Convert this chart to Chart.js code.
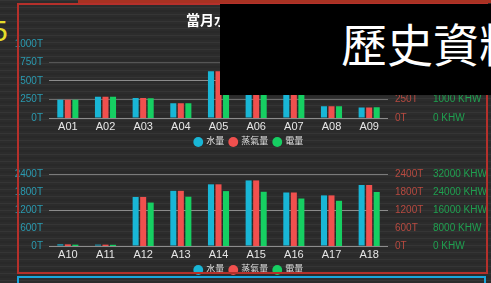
<!DOCTYPE html>
<html><head><meta charset="utf-8">
<script src="https://cdn.jsdelivr.net/npm/chart.js@4.4.0/dist/chart.umd.min.js"></script>
<style>
html,body{margin:0;padding:0;width:491px;height:283px;overflow:hidden;}
body{position:relative;background-color:#2c2c2c;
background-image:repeating-linear-gradient(180deg,rgba(255,255,255,0.045) 0px,rgba(255,255,255,0.045) 1px,rgba(0,0,0,0) 1px,rgba(0,0,0,0) 3px,rgba(0,0,0,0.08) 3px,rgba(0,0,0,0.08) 5px,rgba(0,0,0,0) 5px,rgba(0,0,0,0) 7px);
font-family:"Liberation Sans",sans-serif;}
#strip{position:absolute;left:78px;top:0;width:413px;height:3px;background:#a83222;}
#five{position:absolute;left:-9px;top:16px;font:30px "Liberation Sans",sans-serif;color:#e6dc2a;line-height:1;}
.cw{position:absolute;left:0;width:491px;}
#c1w{top:1px;height:147px;}
#c2w{top:161px;height:115px;}
#frame{position:absolute;left:17px;top:3px;width:467px;height:267px;border:2px solid #b5302b;}
#blue{position:absolute;left:17px;top:276px;width:465px;height:20px;border:2px solid #1aa6dd;}
#black{position:absolute;left:220px;top:4px;width:271px;height:91px;background:#000;overflow:hidden;}
#black span{position:absolute;left:121px;top:15px;font:46px "Noto Sans CJK TC",sans-serif;color:#fff;white-space:nowrap;line-height:1;}
</style></head>
<body>
<div id="strip"></div>
<div id="five">5</div>
<div class="cw" id="c1w"><canvas id="c1" width="491" height="147"></canvas></div>
<div class="cw" id="c2w"><canvas id="c2" width="491" height="115"></canvas></div>
<div id="frame"></div>
<div id="blue"></div>
<div id="black"><span>歷史資料</span></div>
<script>
// ---- data ----
const topCategories = ['A01','A02','A03','A04','A05','A06','A07','A08','A09'];
const topWater = [245, 287, 268, 199, 629, 560, 545, 157, 143];
const topSteam = [245, 287, 268, 199, 629, 560, 545, 157, 143];
const topElec  = [980, 1150, 1070, 800, 2200, 2000, 1900, 630, 575]; // KHW
const bottomCategories = ['A10','A11','A12','A13','A14','A15','A16','A17','A18'];
const bottomWater = [55, 45, 1635, 1839, 2056, 2186, 1784, 1687, 2034];
const bottomSteam = [55, 45, 1635, 1839, 2056, 2186, 1784, 1687, 2034];
const bottomElec  = [600, 530, 19300, 21900, 24400, 24100, 21100, 20100, 24000]; // KHW
const topTTicks = [0, 250, 500, 750, 1000];
const topKhwTicks = [0, 1000, 2000, 3000, 4000];
const bottomTTicks = [0, 600, 1200, 1800, 2400];
const bottomKhwTicks = [0, 8000, 16000, 24000, 32000];
const seriesLabels = ['水量', '蒸氣量', '電量'];
const titleText = '當月水電蒸氣使用量';

const FONT = '"Liberation Sans","Noto Sans CJK TC",sans-serif';

function makeChart(id, cats, water, steam, elec, tTicks, kTicks, showTitle, gridColors, padTop) {
  const fixTicks = (arr) => (s) => { s.ticks = arr.map(v => ({value: v})); };
  return new Chart(document.getElementById(id), {
    type: 'bar',
    data: {
      labels: cats,
      datasets: [
        {label: seriesLabels[0], data: water, backgroundColor: '#19b6d6', yAxisID: 'y'},
        {label: seriesLabels[1], data: steam, backgroundColor: '#f0504e', yAxisID: 'yR'},
        {label: seriesLabels[2], data: elec, backgroundColor: '#16cf62', yAxisID: 'yG'}
      ]
    },
    options: {
      responsive: false,
      animation: false,
      devicePixelRatio: 1,
      datasets: {bar: {categoryPercentage: 0.6, barPercentage: 0.8}},
      layout: {padding: {top: padTop, left: 7, right: 0, bottom: 0}},
      plugins: {
        title: {display: showTitle, text: titleText, color: '#ffffff',
                font: {family: FONT, size: 14}, padding: {top: 12, bottom: 14}},
        legend: {position: 'bottom', maxHeight: 16,
                 labels: {usePointStyle: true, pointStyle: 'circle', boxWidth: 7, boxHeight: 7,
                          color: '#e0e0e0', font: {family: FONT, size: 9}, padding: 5.5}},
        tooltip: {enabled: false}
      },
      scales: {
        x: {grid: {display: false, drawTicks: false, tickLength: 0}, border: {display: false},
            ticks: {color: '#e6e6e6', font: {family: FONT, size: 11, lineHeight: 1}, padding: 3},
            afterFit: s => { s.height = 14; }},
        y: {position: 'left', min: 0, max: tTicks[tTicks.length - 1],
            afterBuildTicks: fixTicks(tTicks),
            grid: {drawTicks: false, color: c => gridColors[c.index], lineWidth: 1},
            border: {display: false},
            ticks: {color: '#2a9ab0', font: {family: FONT, size: 10}, padding: 6, callback: v => v + 'T'},
            afterFit: s => { s.width = 42; }},
        yR: {position: 'right', weight: 1, min: 0, max: tTicks[tTicks.length - 1],
             afterBuildTicks: fixTicks(tTicks),
             grid: {display: false, drawTicks: false}, border: {display: false},
             ticks: {color: '#b84a40', font: {family: FONT, size: 10}, padding: 7, callback: v => v + 'T'},
             afterFit: s => { s.width = 40; }},
        yG: {position: 'right', weight: 2, min: 0, max: kTicks[kTicks.length - 1],
             afterBuildTicks: fixTicks(kTicks),
             grid: {display: false, drawTicks: false}, border: {display: false},
             ticks: {color: '#1fa050', font: {family: FONT, size: 10}, padding: 5, callback: v => v + ' KHW'},
             afterFit: s => { s.width = 63; }}
      }
    }
  });
}

makeChart('c1', topCategories, topWater, topSteam, topElec, topTTicks, topKhwTicks, true,
  ['#8c8c8c', '#6e6e6e', '#8c8c8c', '#555555', 'rgba(0,0,0,0)'], 0);
makeChart('c2', bottomCategories, bottomWater, bottomSteam, bottomElec, bottomTTicks, bottomKhwTicks, false,
  ['#8c8c8c', 'rgba(0,0,0,0)', '#8c8c8c', 'rgba(0,0,0,0)', '#7a7a7a'], 11);
</script>
</body></html>
